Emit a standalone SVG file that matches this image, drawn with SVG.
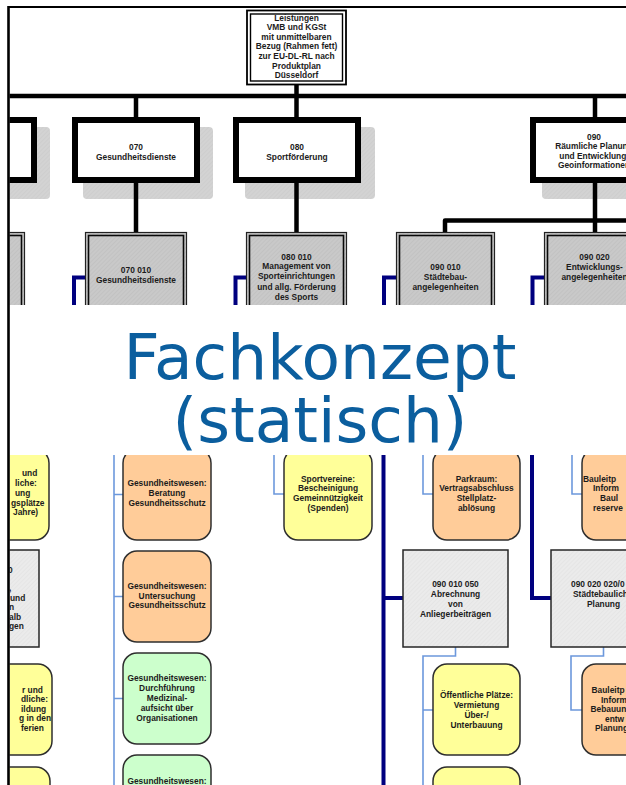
<svg xmlns="http://www.w3.org/2000/svg" width="626" height="785" viewBox="0 0 626 785">
  <defs>
    <!-- fine diagonal texture for the grey level-2 boxes -->
    <pattern id="hatchDark" width="3" height="3" patternUnits="userSpaceOnUse" patternTransform="rotate(45)">
      <rect width="3" height="3" fill="#c9c9c9"/>
      <line x1="0" y1="0" x2="0" y2="3" stroke="#bcbcbc" stroke-width="1"/>
    </pattern>
    <pattern id="hatchLight" width="3" height="3" patternUnits="userSpaceOnUse" patternTransform="rotate(45)">
      <rect width="3" height="3" fill="#ebebeb"/>
      <line x1="0" y1="0" x2="0" y2="3" stroke="#e0e0e0" stroke-width="1"/>
    </pattern>
    <pattern id="hatchShadow" width="3" height="3" patternUnits="userSpaceOnUse" patternTransform="rotate(45)">
      <rect width="3" height="3" fill="#d3d3d3"/>
      <line x1="0" y1="0" x2="0" y2="3" stroke="#c9c9c9" stroke-width="1"/>
    </pattern>
    <clipPath id="upperClip"><rect x="9.5" y="8" width="617" height="297"/></clipPath>
    <clipPath id="lowerClip"><rect x="9.5" y="455" width="617" height="330"/></clipPath>
  </defs>
  <style>
    .t { font-family: "Liberation Sans", Arial, sans-serif; font-size: 8.4px; font-weight: bold; text-anchor: middle; fill: #1c1c1c; }
    .ts { font-family: "Liberation Sans", Arial, sans-serif; font-size: 8.4px; font-weight: bold; fill: #1c1c1c; }
    .l1 { fill: #ffffff; stroke: #000000; stroke-width: 6; }
    .sh { fill: url(#hatchShadow); }
    .l2o { fill: url(#hatchDark); stroke: #222222; stroke-width: 1.2; }
    .l2i { fill: none; stroke: #0a0a0a; stroke-width: 1.6; }
    .bus { stroke: #000000; stroke-width: 4.5; fill: none; stroke-linejoin: round; }
    .nav { stroke: #00007f; stroke-width: 4; fill: none; }
    .lb { stroke: #6c98dc; stroke-width: 1.6; fill: none; }
    .rb { stroke: #2e2e2e; stroke-width: 1.5; }
    .yel { fill: #ffff99; }
    .ora { fill: #ffcc99; }
    .grn { fill: #ccffcc; }
    .gb { fill: url(#hatchLight); stroke: #262626; stroke-width: 1.5; }
    .title { font-family: "DejaVu Sans", Verdana, sans-serif; font-size: 63px; fill: #0b5e9e; text-anchor: middle; }
  </style>

  <rect width="626" height="785" fill="#ffffff"/>

  <!-- ===== upper part of the product tree ===== -->
  <g clip-path="url(#upperClip)">
    <g id="shadows">
      <rect class="sh" x="-80" y="127" width="130" height="72" rx="4"/>
      <rect class="sh" x="83" y="127" width="130" height="72" rx="4"/>
      <rect class="sh" x="245" y="127" width="130" height="72" rx="4"/>
      <rect class="sh" x="542" y="127" width="130" height="72" rx="4"/>
    </g>

    <g id="connectors-upper">
      <line class="bus" x1="0" y1="96" x2="626" y2="96"/>
      <line class="bus" x1="296.5" y1="85" x2="296.5" y2="117"/>
      <line class="bus" x1="136" y1="96" x2="136" y2="117"/>
      <line class="bus" x1="595" y1="96" x2="595" y2="117"/>
      <line class="bus" x1="136" y1="183" x2="136" y2="232"/>
      <line class="bus" x1="296.5" y1="183" x2="296.5" y2="232"/>
      <path class="bus" d="M595,183 V232 M445,232 V220.5 H626"/>
      <path class="nav" d="M85,277.5 H74 V320"/>
      <path class="nav" d="M246,277.5 H235.5 V320"/>
      <path class="nav" d="M396,277.5 H384 V320"/>
      <path class="nav" d="M544,277.5 H532.5 V320"/>
    </g>

    <g id="root">
      <rect x="247" y="10.5" width="99" height="74" fill="#ffffff" stroke="#000" stroke-width="1.8"/>
      <rect x="250.5" y="14" width="92" height="67" fill="none" stroke="#000" stroke-width="1.4"/>
      <text class="t" x="296.5" y="20.5">Leistungen</text>
      <text class="t" x="296.5" y="30">VMB und KGSt</text>
      <text class="t" x="296.5" y="39.5">mit unmittelbaren</text>
      <text class="t" x="296.5" y="49">Bezug (Rahmen fett)</text>
      <text class="t" x="296.5" y="59">zur EU-DL-RL nach</text>
      <text class="t" x="296.5" y="68.5">Produktplan</text>
      <text class="t" x="296.5" y="78">Düsseldorf</text>
    </g>

    <g id="n-left-l1">
      <rect class="l1" x="-88" y="120" width="122" height="60"/>
    </g>
    <g id="n-070">
      <rect class="l1" x="75" y="120" width="122" height="60"/>
      <text class="t" x="136" y="149.5">070</text>
      <text class="t" x="136" y="160">Gesundheitsdienste</text>
    </g>
    <g id="n-080">
      <rect class="l1" x="236" y="120" width="122" height="60"/>
      <text class="t" x="297" y="149.5">080</text>
      <text class="t" x="297" y="160">Sportförderung</text>
    </g>
    <g id="n-090">
      <rect class="l1" x="533" y="120" width="122" height="60"/>
      <text class="t" x="594" y="139.5">090</text>
      <text class="t" x="594" y="149">Räumliche Planung</text>
      <text class="t" x="594" y="158.5">und Entwicklung,</text>
      <text class="t" x="594" y="168">Geoinformationen</text>
    </g>

    <g id="n-left-l2">
      <rect class="l2o" x="-75.5" y="232.5" width="100" height="90"/>
      <rect class="l2i" x="-72.5" y="235.5" width="94" height="84"/>
    </g>
    <g id="n-070-010">
      <rect class="l2o" x="85.5" y="232.5" width="101" height="90"/>
      <rect class="l2i" x="88.5" y="235.5" width="95" height="84"/>
      <text class="t" x="136" y="273">070 010</text>
      <text class="t" x="136" y="283">Gesundheitsdienste</text>
    </g>
    <g id="n-080-010">
      <rect class="l2o" x="246.5" y="232.5" width="100" height="90"/>
      <rect class="l2i" x="249.5" y="235.5" width="94" height="84"/>
      <text class="t" x="296.5" y="259.5">080 010</text>
      <text class="t" x="296.5" y="269">Management von</text>
      <text class="t" x="296.5" y="279">Sporteinrichtungen</text>
      <text class="t" x="296.5" y="289.5">und allg. Förderung</text>
      <text class="t" x="296.5" y="300">des Sports</text>
    </g>
    <g id="n-090-010">
      <rect class="l2o" x="396.5" y="232.5" width="98" height="90"/>
      <rect class="l2i" x="399.5" y="235.5" width="92" height="84"/>
      <text class="t" x="445.5" y="269.5">090 010</text>
      <text class="t" x="445.5" y="280">Städtebau-</text>
      <text class="t" x="445.5" y="290">angelegenheiten</text>
    </g>
    <g id="n-090-020">
      <rect class="l2o" x="544.5" y="232.5" width="100" height="90"/>
      <rect class="l2i" x="547.5" y="235.5" width="94" height="84"/>
      <text class="t" x="594.5" y="259.5">090 020</text>
      <text class="t" x="594.5" y="270">Entwicklungs-</text>
      <text class="t" x="594.5" y="280">angelegenheiten</text>
    </g>
  </g>

  <!-- ===== lower part of the product tree ===== -->
  <g clip-path="url(#lowerClip)">
    <g id="connectors-lower">
      <path class="nav" d="M383.5,440 V790 M383.5,598 H403"/>
      <path class="nav" d="M532,440 V598 H551"/>
      <path class="lb" d="M114,440 V790 M114,494.5 H123 M114,596.5 H123 M114,698.5 H123"/>
      <path class="lb" d="M274,440 V494 H284"/>
      <path class="lb" d="M423,440 V494 H433"/>
      <path class="lb" d="M455.5,647 V656 H423 V790 M423,710 H433"/>
      <path class="lb" d="M572,440 V494 H582"/>
      <path class="lb" d="M603.5,647 V656 H571 V710 H582"/>
    </g>

    <g id="n-left-y1">
      <rect class="rb yel" x="-39" y="449" width="88" height="91" rx="14"/>
      <text class="ts" x="22" y="476">und</text>
      <text class="ts" x="15" y="486">liche:</text>
      <text class="ts" x="15" y="496">ung</text>
      <text class="ts" x="11" y="505.5">gsplätze</text>
      <text class="ts" x="13" y="515">Jahre)</text>
    </g>
    <g id="n-left-g">
      <rect class="gb" x="-66" y="550" width="105" height="97"/>
      <text class="ts" x="8" y="573">0</text>
      <text class="ts" x="9" y="591">,</text>
      <text class="ts" x="10" y="600.5">und</text>
      <text class="ts" x="9" y="610">n</text>
      <text class="ts" x="9" y="619.5">alb</text>
      <text class="ts" x="9" y="629">gen</text>
    </g>
    <g id="n-left-y2">
      <rect class="rb yel" x="-36" y="664" width="88" height="91" rx="14"/>
      <text class="ts" x="22" y="692.5">r und</text>
      <text class="ts" x="21" y="702">dliche:</text>
      <text class="ts" x="21" y="711.5">ildung</text>
      <text class="ts" x="19" y="721">g in den</text>
      <text class="ts" x="21" y="730.5">ferien</text>
    </g>
    <g id="n-left-y3">
      <rect class="rb yel" x="-38" y="767" width="88" height="91" rx="14"/>
    </g>

    <g id="n-gw-beratung">
      <rect class="rb ora" x="123" y="449" width="88" height="91" rx="14"/>
      <text class="t" x="167" y="486">Gesundheitswesen:</text>
      <text class="t" x="167" y="496">Beratung</text>
      <text class="t" x="167" y="505.5">Gesundheitsschutz</text>
    </g>
    <g id="n-gw-untersuchung">
      <rect class="rb ora" x="123" y="551" width="88" height="91" rx="14"/>
      <text class="t" x="167" y="589">Gesundheitswesen:</text>
      <text class="t" x="167" y="598.5">Untersuchung</text>
      <text class="t" x="167" y="608">Gesundheitsschutz</text>
    </g>
    <g id="n-gw-aufsicht">
      <rect class="rb grn" x="123" y="653" width="88" height="91" rx="14"/>
      <text class="t" x="167" y="681">Gesundheitswesen:</text>
      <text class="t" x="167" y="691">Durchführung</text>
      <text class="t" x="167" y="701">Medizinal-</text>
      <text class="t" x="167" y="711">aufsicht über</text>
      <text class="t" x="167" y="720.5">Organisationen</text>
    </g>
    <g id="n-gw-4">
      <rect class="rb grn" x="123" y="755" width="88" height="91" rx="14"/>
      <text class="t" x="167" y="784">Gesundheitswesen:</text>
    </g>

    <g id="n-sportvereine">
      <rect class="rb yel" x="284" y="449" width="88" height="91" rx="14"/>
      <text class="t" x="328" y="481.5">Sportvereine:</text>
      <text class="t" x="328" y="491">Bescheinigung</text>
      <text class="t" x="328" y="500.5">Gemeinnützigkeit</text>
      <text class="t" x="328" y="511">(Spenden)</text>
    </g>

    <g id="n-parkraum">
      <rect class="rb ora" x="433" y="449" width="87" height="91" rx="14"/>
      <text class="t" x="476.5" y="481.5">Parkraum:</text>
      <text class="t" x="476.5" y="491">Vertragsabschluss</text>
      <text class="t" x="476.5" y="500.5">Stellplatz-</text>
      <text class="t" x="476.5" y="511">ablösung</text>
    </g>
    <g id="n-090-010-050">
      <rect class="gb" x="403" y="550" width="105" height="97"/>
      <text class="t" x="455.5" y="587">090 010 050</text>
      <text class="t" x="455.5" y="597">Abrechnung</text>
      <text class="t" x="455.5" y="607">von</text>
      <text class="t" x="455.5" y="616.5">Anliegerbeiträgen</text>
    </g>
    <g id="n-plaetze">
      <rect class="rb yel" x="433" y="664" width="87" height="91" rx="14"/>
      <text class="t" x="476.5" y="698">Öffentliche Plätze:</text>
      <text class="t" x="476.5" y="707.5">Vermietung</text>
      <text class="t" x="476.5" y="717.5">Über-/</text>
      <text class="t" x="476.5" y="727.5">Unterbauung</text>
    </g>
    <g id="n-plaetze-2">
      <rect class="rb yel" x="433" y="767" width="87" height="91" rx="14"/>
    </g>

    <g id="n-bauleit-1">
      <rect class="rb ora" x="582" y="449" width="88" height="91" rx="14"/>
      <text class="ts" x="583" y="481.5">Bauleitp</text>
      <text class="ts" x="593" y="490.5">Inform</text>
      <text class="ts" x="600" y="500.5">Baul</text>
      <text class="ts" x="593" y="511">reserve</text>
    </g>
    <g id="n-090-020-020">
      <rect class="gb" x="551" y="550" width="105" height="97"/>
      <text class="ts" x="571" y="586.5">090 020 020/0</text>
      <text class="ts" x="573" y="597">Städtebaulich</text>
      <text class="ts" x="587" y="607">Planung</text>
    </g>
    <g id="n-bauleit-2">
      <rect class="rb ora" x="582" y="664" width="88" height="91" rx="14"/>
      <text class="ts" x="591.5" y="693">Bauleitp</text>
      <text class="ts" x="601" y="702.5">Inform</text>
      <text class="ts" x="590.5" y="712">Bebauun</text>
      <text class="ts" x="605" y="721.5">entw</text>
      <text class="ts" x="595" y="731">Planung</text>
    </g>
  </g>

  <!-- page frame -->
  <g id="frame">
    <line x1="8.5" y1="6" x2="8.5" y2="785" stroke="#000" stroke-width="2.6"/>
    <line x1="8" y1="7" x2="626" y2="7" stroke="#000" stroke-width="1.8"/>
  </g>

  <!-- title -->
  <g id="title">
    <text class="title" x="320" y="378.5">Fachkonzept</text>
    <text class="title" x="320" y="441.5">(statisch)</text>
  </g>
</svg>
